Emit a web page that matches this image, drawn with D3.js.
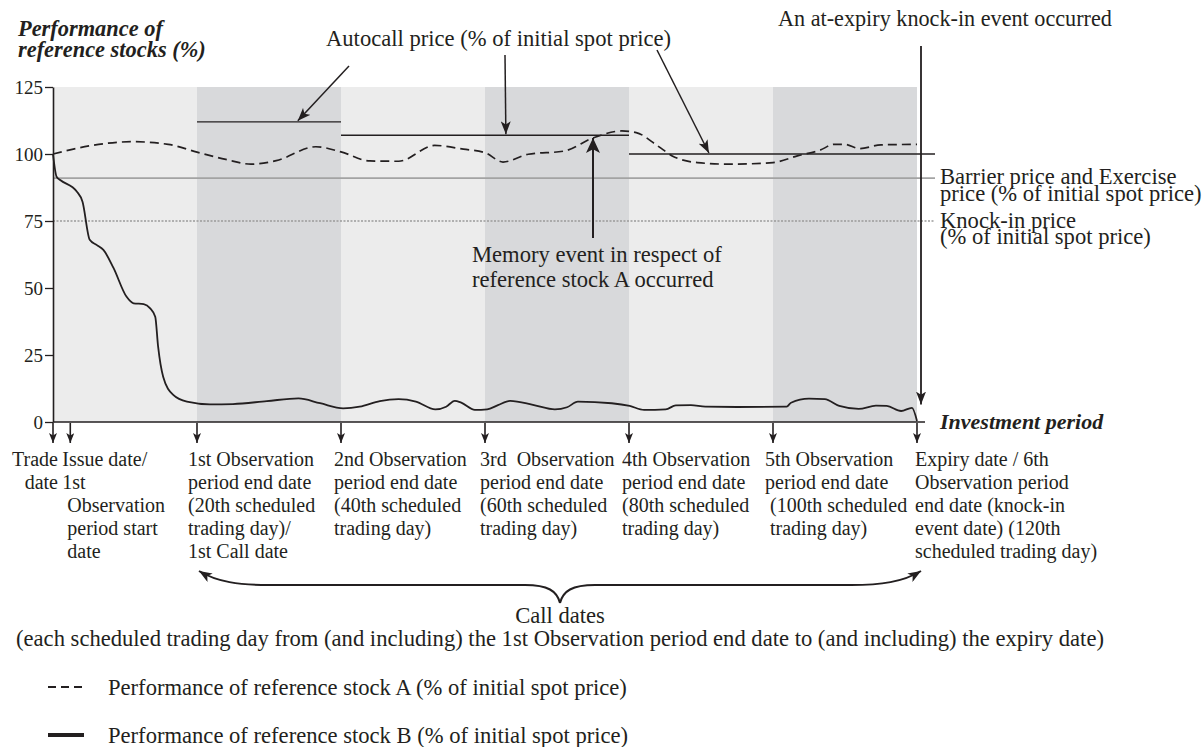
<!DOCTYPE html>
<html>
<head>
<meta charset="utf-8">
<script src="https://cdn.jsdelivr.net/npm/d3@7"></script>
<style>
  body { margin: 0; background: #fff; }
  svg text { font-family: "Liberation Serif", "DejaVu Serif", "Times New Roman", Times, serif; fill: #231f20; white-space: pre; }
</style>
</head>
<body>
<svg id="chart" width="1204" height="747"></svg>
<script>
// ---- data ----
const yTicks = [0, 25, 50, 75, 100, 125];
const periodBounds = [0, 20, 40, 60, 80, 100, 120];
const autocallFrom = [20, 40, 80];
const autocallTo = [40, 80, 120];
const autocallLevel = [112, 107, 100];
const barrierLevel = 91;
const knockInLevel = 75;

const stockADays = [0, 5, 11, 16, 20, 24, 27.5, 31, 36.5, 40, 44, 48, 53, 57, 60, 62.5, 66, 71, 75, 79, 81, 84, 86, 89.5, 94, 100, 103.5, 106.5, 108.5, 110, 112, 115, 120];
const stockA = [100, 103, 104.6, 103.6, 100.7, 98, 96.2, 97.5, 102.7, 100.8, 97.4, 97.3, 103.2, 101.8, 100.5, 97, 99.9, 101.1, 106, 108.6, 108, 103, 99.3, 96.8, 96.2, 96.8, 99.4, 101.4, 103.6, 103.6, 102, 103.4, 103.6];

const stockBDays = [0, 0.5, 1, 3.3, 4.1, 5.1, 6.1, 7, 8.4, 10.2, 11.2, 12.6, 13.5, 14.2, 14.6, 15.3, 16.7, 18.6, 21.8, 25, 29.7, 34.1, 37.1, 40.3, 42.6, 45.4, 48, 50.4, 53.1, 54.6, 55.8, 56.7, 58.6, 60.3, 61.8, 63.5, 66.8, 69.7, 71.4, 72.9, 77.6, 80.1, 82.1, 85.1, 86.5, 88.6, 90.6, 95, 101.9, 102.5, 105, 107.2, 109.2, 111.9, 114.3, 115.8, 117.8, 119.3, 120];
const stockB = [100, 91.5, 90.3, 86, 82.2, 68, 66, 64.2, 57.5, 46.8, 44.3, 44, 42.4, 39.3, 28.1, 16.9, 10.1, 7.6, 6.6, 6.7, 7.8, 8.8, 7, 5.1, 5.7, 7.8, 8.5, 7.6, 4.7, 5.7, 7.9, 7.2, 4.5, 4.7, 6.3, 7.9, 6.3, 4.7, 5.5, 7.6, 7, 6, 4.5, 4.7, 6.2, 6.3, 5.7, 5.6, 5.7, 7.2, 8.7, 8.5, 6, 4.9, 6.1, 6, 4.1, 5.3, 0.4];

const markerDays = [0, 2.4, 20, 40, 60, 80, 100, 120];
const markerLabels = [
  ["Trade", "date"],
  ["Issue date/", "1st", " Observation", " period start", " date"],
  ["1st Observation", "period end date", "(20th scheduled", "trading day)/", "1st Call date"],
  ["2nd Observation", "period end date", "(40th scheduled", "trading day)"],
  ["3rd  Observation", "period end date", "(60th scheduled", "trading day)"],
  ["4th Observation", "period end date", "(80th scheduled", "trading day)"],
  ["5th Observation", "period end date", " (100th scheduled", " trading day)"],
  ["Expiry date / 6th", "Observation period", "end date (knock-in", "event date) (120th", "scheduled trading day)"]
];
const legendLabels = [
  "Performance of reference stock A (% of initial spot price)",
  "Performance of reference stock B (% of initial spot price)"
];

// ---- layout ----
const ink = "#231f20";
const serif = "Liberation Serif, DejaVu Serif, Times New Roman, serif";
const noteSize = 22.6;
const svg = d3.select("#chart").attr("font-family", serif);
svg.append("rect").attr("width", 1204).attr("height", 747).attr("fill", "#fff");

const x = d3.scaleLinear().domain([0, 120]).range([53, 917]);
const y = d3.scaleLinear().domain([0, 125]).range([422, 87]);

const defs = svg.append("defs");
function marker(id, w, l) {
  defs.append("marker")
    .attr("id", id)
    .attr("viewBox", `0 ${-w / 2} ${l} ${w}`)
    .attr("refX", l).attr("refY", 0)
    .attr("markerWidth", l).attr("markerHeight", w)
    .attr("markerUnits", "userSpaceOnUse")
    .attr("orient", "auto-start-reverse")
    .append("path")
    .attr("d", `M0,${-w / 2}L${l},0L0,${w / 2}L${l * 0.25},0Z`)
    .attr("fill", ink);
}
marker("arrSmall", 8, 10);
marker("arrMid", 10, 13);
marker("arrBig", 14, 15);

// shaded observation periods
svg.append("g").selectAll("rect")
  .data(d3.pairs(periodBounds))
  .join("rect")
  .attr("x", d => x(d[0]))
  .attr("y", y(125))
  .attr("width", d => x(d[1]) - x(d[0]))
  .attr("height", y(0) - y(125))
  .attr("fill", (d, i) => i % 2 ? "#d8d9db" : "#ececec");

// barrier + knock-in lines
const xRight = x(120) + 18;
svg.append("line")
  .attr("x1", x(0)).attr("x2", xRight)
  .attr("y1", y(barrierLevel)).attr("y2", y(barrierLevel))
  .attr("stroke", "#a3a3a3").attr("stroke-width", 1.6);
svg.append("line")
  .attr("x1", x(0)).attr("x2", xRight)
  .attr("y1", y(knockInLevel)).attr("y2", y(knockInLevel))
  .attr("stroke", "#9a9a9a").attr("stroke-width", 1.3)
  .attr("stroke-dasharray", "2,1.5");

// autocall price lines
svg.append("g").selectAll("line")
  .data(autocallLevel)
  .join("line")
  .attr("x1", (d, i) => x(autocallFrom[i]))
  .attr("x2", (d, i) => i === autocallLevel.length - 1 ? xRight : x(autocallTo[i]))
  .attr("y1", d => y(d)).attr("y2", d => y(d))
  .attr("stroke", ink).attr("stroke-width", 1.4);

// stock lines
const line = d3.line().x(d => x(d[0])).y(d => y(d[1])).curve(d3.curveMonotoneX);
svg.append("path")
  .attr("d", line(stockADays.map((d, i) => [d, stockA[i]])))
  .attr("fill", "none").attr("stroke", ink).attr("stroke-width", 1.7)
  .attr("stroke-dasharray", "9,5");
svg.append("path")
  .attr("d", line(stockBDays.map((d, i) => [d, stockB[i]])))
  .attr("fill", "none").attr("stroke", ink).attr("stroke-width", 1.8);

// axes
const yAxis = svg.append("g")
  .attr("transform", `translate(${x(0)},0)`)
  .call(d3.axisLeft(y).tickValues(yTicks).tickSize(8).tickSizeOuter(0).tickPadding(2))
  .attr("font-family", serif).attr("font-size", 19);
yAxis.select(".domain").attr("stroke", ink).attr("stroke-width", 1.6);
yAxis.selectAll(".tick line").attr("stroke", ink).attr("stroke-width", 1.3);
yAxis.selectAll(".tick text").attr("fill", ink);

svg.append("line")
  .attr("x1", x(0)).attr("x2", x(120) + 8)
  .attr("y1", y(0)).attr("y2", y(0))
  .attr("stroke", ink).attr("stroke-width", 1.6);

svg.append("text")
  .attr("x", 940).attr("y", 429)
  .attr("font-size", 22).attr("font-weight", "bold").attr("font-style", "italic")
  .text("Investment period");

// y title
const title = svg.append("text")
  .attr("font-size", 22.4).attr("font-weight", "bold").attr("font-style", "italic");
title.append("tspan").attr("x", 18).attr("y", 36).text("Performance of");
title.append("tspan").attr("x", 18).attr("y", 57).text("reference stocks (%)");

// date markers + labels
const labelDx = [5, -8, -9, -7, -5, -7, -8, -2];
svg.append("g").selectAll("line")
  .data(markerDays)
  .join("line")
  .attr("x1", d => x(d)).attr("x2", d => x(d))
  .attr("y1", y(0) + 1).attr("y2", y(0) + 21)
  .attr("stroke", ink).attr("stroke-width", 1.6)
  .attr("marker-end", "url(#arrSmall)");

svg.append("g").selectAll("text")
  .data(markerLabels)
  .join("text")
  .attr("font-size", 20)
  .attr("text-anchor", (d, i) => i === 0 ? "end" : "start")
  .each(function (lines, i) {
    d3.select(this).selectAll("tspan")
      .data(lines)
      .join("tspan")
      .attr("x", x(markerDays[i]) + labelDx[i])
      .attr("y", (d, j) => 466 + j * 23)
      .text(d => d);
  });

// right-side labels
function block(xp, y0, dy, lines, size) {
  const t = svg.append("text").attr("font-size", size);
  lines.forEach((s, j) => t.append("tspan").attr("x", xp).attr("y", y0 + j * dy).text(s));
  return t;
}
block(xRight + 5, y(barrierLevel) + 6, 16.5, ["Barrier price and Exercise", "price (% of initial spot price)"], noteSize);
block(xRight + 5, y(knockInLevel) + 6.5, 16, ["Knock-in price", "(% of initial spot price)"], noteSize);

// autocall annotation
svg.append("text").attr("x", 326).attr("y", 46).attr("font-size", noteSize)
  .text("Autocall price (% of initial spot price)");
const autocallArrows = [
  [349, 66, 34, 0],
  [505, 55, 62.9, 1],
  [657, 50, 91.1, 2]
];
svg.append("g").selectAll("line")
  .data(autocallArrows)
  .join("line")
  .attr("x1", d => d[0]).attr("y1", d => d[1])
  .attr("x2", d => x(d[2])).attr("y2", d => y(autocallLevel[d[3]]) - 1)
  .attr("stroke", ink).attr("stroke-width", 1.5)
  .attr("marker-end", "url(#arrMid)");

// at-expiry knock-in
svg.append("text").attr("x", 778).attr("y", 26).attr("font-size", 22.2)
  .text("An at-expiry knock-in event occurred");
svg.append("line")
  .attr("x1", x(120) + 4).attr("x2", x(120) + 4)
  .attr("y1", 46).attr("y2", y(6.5))
  .attr("stroke", ink).attr("stroke-width", 1.8)
  .attr("marker-end", "url(#arrMid)");

// memory event
svg.append("line")
  .attr("x1", x(75)).attr("x2", x(75))
  .attr("y1", 238).attr("y2", y(106))
  .attr("stroke", ink).attr("stroke-width", 2)
  .attr("marker-end", "url(#arrBig)");
block(472, 262, 25, ["Memory event in respect of", "reference stock A occurred"], noteSize);

// call dates brace
const bx0 = x(20) + 2, bx1 = x(120) + 4, bm = (bx0 + bx1) / 2, by = 585;
svg.append("path")
  .attr("d", `M${bx0},571 C${bx0 + 18},582 ${bx0 + 40},${by} ${bx0 + 70},${by} L${bm - 35},${by} C${bm - 12},${by} ${bm - 3},${by + 6} ${bm},603`)
  .attr("fill", "none").attr("stroke", ink).attr("stroke-width", 2)
  .attr("marker-start", "url(#arrMid)");
svg.append("path")
  .attr("d", `M${bx1},571 C${bx1 - 18},582 ${bx1 - 40},${by} ${bx1 - 70},${by} L${bm + 35},${by} C${bm + 12},${by} ${bm + 3},${by + 6} ${bm},603`)
  .attr("fill", "none").attr("stroke", ink).attr("stroke-width", 2)
  .attr("marker-start", "url(#arrMid)");

svg.append("text").attr("x", bm).attr("y", 623).attr("font-size", noteSize)
  .attr("text-anchor", "middle").text("Call dates");
svg.append("text").attr("x", bm).attr("y", 646).attr("font-size", noteSize)
  .attr("text-anchor", "middle")
  .text("(each scheduled trading day from (and including) the 1st Observation period end date to (and including) the expiry date)");

// legend
const lg = svg.append("g").selectAll("g")
  .data(legendLabels)
  .join("g")
  .attr("transform", (d, i) => `translate(48,${687 + i * 48})`);
lg.append("line")
  .attr("x1", 0).attr("x2", (d, i) => i ? 36 : 38)
  .attr("stroke", ink)
  .attr("stroke-width", (d, i) => i ? 4 : 2)
  .attr("stroke-dasharray", (d, i) => i ? null : "8,5");
lg.append("text").attr("x", 60).attr("y", 8).attr("font-size", noteSize).text(d => d);
</script>
</body>
</html>
